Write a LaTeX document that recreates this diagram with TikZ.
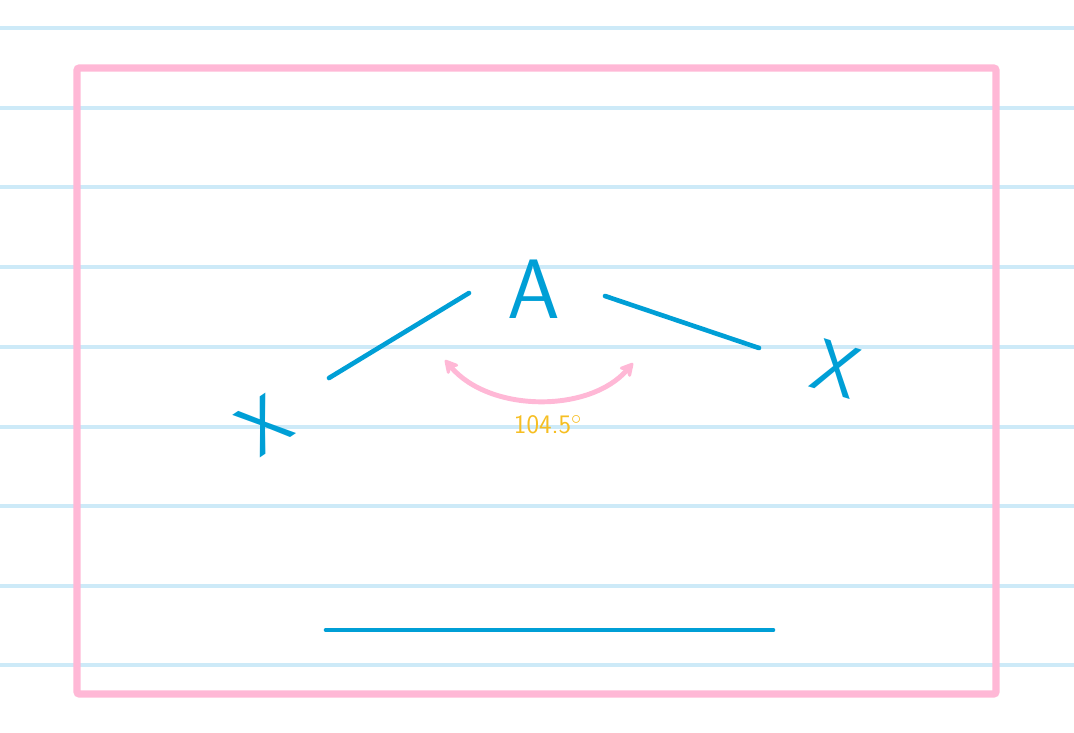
\documentclass[tikz,border=0pt]{standalone}
\usetikzlibrary{arrows.meta}
\definecolor{ruleblue}{HTML}{CDEAF8}
\definecolor{inkblue}{HTML}{009FD6}
\definecolor{framepink}{HTML}{FFB8D6}
\definecolor{labelyellow}{HTML}{F6BE22}
\tikzset{
	ruling/.style = {draw=ruleblue, line width=2.2pt},
	frame/.style = {draw=framepink, line width=5pt, rounded corners=1.5pt},
	bond/.style = {draw=inkblue, line width=3.3pt, line cap=round},
	atom/.style = {text=inkblue, inner sep=0pt, font=\sffamily\fontsize{60}{60}\selectfont},
	ligand/.style = {text=inkblue, inner sep=0pt, font=\sffamily\fontsize{52}{52}\selectfont},
	anglearrow/.style = {draw=framepink, line width=3.5pt, {Stealth[round,length=12pt,width=13pt]}-{Stealth[round,length=12pt,width=13pt]}},
	anglelabel/.style = {text=labelyellow, inner sep=0pt, font=\sffamily\fontsize{19}{19}\selectfont}
}
\begin{document}
\begin{tikzpicture}[x=0.025cm, y=-0.025cm]
	\useasboundingbox (0,0) rectangle (1074,732);
	\foreach \ry in {28,108,187,267,347,427,506,586,665}
		\draw[ruling] (0,\ry) -- (1074,\ry);
	\draw[frame] (77,68) rectangle (996,694);

	\node[atom] (atomA) at (534,289) {A};
	\node[ligand, rotate=34] (xLeft) at (264,425) {X};
	\node[ligand, rotate=-17] (xRight) at (837,369) {X};

	\coordinate (bondLa) at (329,378);
	\coordinate (bondLb) at (469,293);
	\coordinate (bondRa) at (605,296);
	\coordinate (bondRb) at (759,348);
	\draw[bond] (bondLa) -- (bondLb);
	\draw[bond] (bondRa) -- (bondRb);

	\coordinate (arcL) at (445,360);
	\coordinate (arcR) at (633,363);
	\draw[anglearrow] (arcL) .. controls (490,413) and (590,413) .. (arcR);
	\node[anglelabel] (angleText) at (548,425) {104.5$^{\circ}$};

	\coordinate (baseL) at (326,630);
	\coordinate (baseR) at (773,630);
	\draw[bond] (baseL) -- (baseR);
\end{tikzpicture}
\end{document}
